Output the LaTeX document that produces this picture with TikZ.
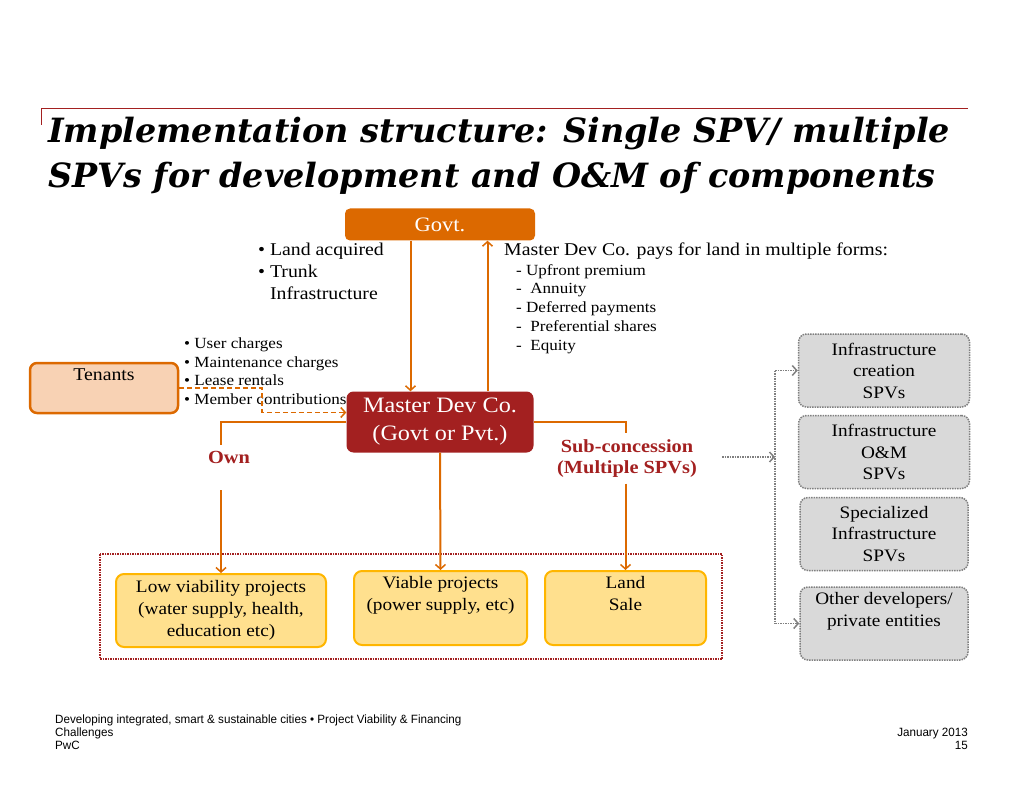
\documentclass[tikz,border=0pt]{standalone}
\usepackage{fontspec}
\setmainfont[FakeStretch=1.1]{Liberation Serif}
\newfontfamily\titlefont{DejaVu Serif}
\newfontfamily\footfont[FakeStretch=0.97]{Liberation Sans}
\usetikzlibrary{arrows,arrows.meta,positioning}
\definecolor{pwcorange}{HTML}{DC6900}
\definecolor{pwcred}{HTML}{A32020}
\definecolor{peach}{HTML}{F8D2B4}
\definecolor{pwcyellow}{HTML}{FFB600}
\definecolor{paleyellow}{HTML}{FFE08E}
\definecolor{spvgrey}{HTML}{D9D9D9}
\newcommand{\setfs}[2]{\fontsize{#1}{#2}\selectfont}

\begin{document}
\begin{tikzpicture}[x=1pt,y=-1pt,>={Straight Barb[length=4.5pt,width=10pt,line width=1.5pt]},
    flow/.style={draw=pwcorange,line width=2pt},
    govtbox/.style={rectangle,rounded corners=5pt,fill=pwcorange,text=white,
                    minimum width=190pt,minimum height=32pt,font=\setfs{20.5}{24}},
    masterbox/.style={rectangle,rounded corners=7pt,fill=pwcred,text=white,align=center,
                    minimum width=187pt,minimum height=61pt,font=\setfs{22}{28}},
    tenantbox/.style={rectangle,rounded corners=7pt,draw=pwcorange,fill=peach,line width=2.5pt,
                    align=center,minimum width=148pt,minimum height=50pt,font=\setfs{18}{20}},
    projbox/.style={rectangle,rounded corners=8pt,draw=pwcyellow,fill=paleyellow,line width=2pt,
                    align=center,minimum height=74pt,font=\setfs{17.5}{22}},
    spvbox/.style={rectangle,rounded corners=8pt,draw=gray,fill=spvgrey,densely dotted,line width=1.5pt,
                    align=center,minimum height=73pt,font=\setfs{17.5}{21.5}},
    notes/.style={anchor=north west,align=left,inner sep=0pt},
    routelabel/.style={text=pwcred,align=center,inner sep=6pt,font=\bfseries\setfs{18.5}{21}},
    spvlink/.style={draw=gray,densely dotted,line width=1.5pt}]

  \useasboundingbox (0,0) rectangle (1024,791);

  % heading
  \draw[pwcred,line width=0.8pt] (41,125) -- (41,108) -- (968,108);
  \node[notes,font=\titlefont\bfseries\itshape\setfs{33.4}{44.5}] (title) at (48,117)
    {Implementation structure: Single SPV/ multiple\\SPVs for development and O\&M of components};

  % main actors
  \node[govtbox]   (govt)    at (440,224.5) {Govt.};
  \node[masterbox] (master)  at (440,422)   {Master Dev Co.\\(Govt or Pvt.)};
  \node[tenantbox] (tenants) at (104,388)   {Tenants\\\strut};

  % project boxes
  \draw[pwcred,densely dotted,line width=1.5pt] (100,554) rectangle (722,659);
  \node[projbox,minimum width=210pt,minimum height=73pt] (low) at (221,610.5)
    {Low viability projects\\(water supply, health,\\education etc)};
  \node[projbox,minimum width=173pt] (viable) at (440.5,608) {Viable projects\\(power supply, etc)\\\strut};
  \node[projbox,minimum width=161pt] (land)   at (625.5,608) {Land\\Sale\\\strut};

  % SPVs
  \node[spvbox,minimum width=171pt] (spvA) at (884,370.5) {Infrastructure\\creation\\SPVs};
  \node[spvbox,minimum width=171pt] (spvB) at (884,452)   {Infrastructure\\O\&M\\SPVs};
  \node[spvbox,minimum width=168pt] (spvC) at (884,534)   {Specialized\\Infrastructure\\SPVs};
  \node[spvbox,minimum width=168pt] (spvD) at (884,623.5) {Other developers/\\private entities\\\strut};

  % notes
  \node[notes,font=\setfs{18}{22}] (landacq) at (258,243)
    {\textbullet\ Land acquired\\\textbullet\ Trunk\\\phantom{\textbullet\ }Infrastructure};
  \node[notes,font=\setfs{18}{22}] (payhead) at (504,243) {Master Dev Co. pays for land in multiple forms:};
  \node[notes,font=\setfs{15.5}{18.75}] (paylist) at (516,264)
    {-~Upfront premium\\-~~Annuity\\-~Deferred payments\\-~~Preferential shares\\-~~Equity};
  \node[notes,font=\setfs{15.5}{18.5}] (charges) at (184,338)
    {\textbullet~User charges\\\textbullet~Maintenance charges\\\textbullet~Lease rentals\\\textbullet~Member contributions};

  \node[routelabel] (own)    at (229,457)   {Own};
  \node[routelabel] (subcon) at (627,458.5) {Sub-concession\\(Multiple SPVs)};

  % flows
  \draw[flow,->] ([xshift=-29.5pt]govt.south) -- ([xshift=-29.5pt]master.north);
  \draw[flow,->] ([xshift=47.5pt]master.north) -- ([xshift=47.5pt]govt.south);
  \draw[flow] (master.west) -| (low.north |- own.north);
  \draw[flow,->] ([yshift=-21pt]low.north |- own.south) -- (low.north);
  \draw[flow,->] (master.south) -- (viable.north);
  \draw[flow] (master.east) -| (land.north |- subcon.north);
  \draw[flow,->] (land.north |- subcon.south) -- (land.north);
  \draw[flow,->,dash pattern=on 5pt off 3pt,line width=1.5pt] (tenants.east)
     -| ([xshift=-84.5pt,yshift=9.5pt]master.west) -- ([yshift=9.5pt]master.west);

  % sub-concession split
  \coordinate (split) at (775,457);
  \draw[spvlink,->] (722,457) -- (split);
  \draw[spvlink] (split |- spvA.west) -- (split |- spvD.west);
  \draw[spvlink,->] (split |- spvA.west) -- (spvA.west);
  \draw[spvlink,->] (split |- spvD.west) -- (spvD.west);

  % footer
  \node[notes,font=\footfont\setfs{12}{13}] (foot) at (55,715)
    {Developing integrated, smart \& sustainable cities \textbullet\ Project Viability \& Financing\\Challenges\\PwC};
  \node[anchor=north east,align=right,inner sep=0pt,font=\footfont\setfs{12}{13}] (date) at (968,728)
    {January 2013\\15};
\end{tikzpicture}
\end{document}
